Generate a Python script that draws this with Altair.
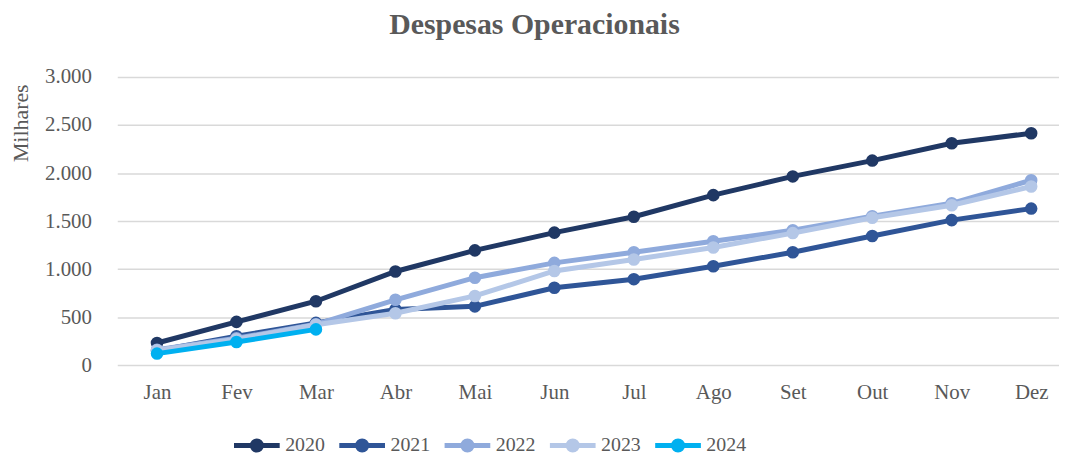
import json
import altair as alt
import pandas as pd

months = ["Jan", "Fev", "Mar", "Abr", "Mai", "Jun", "Jul", "Ago", "Set", "Out", "Nov", "Dez"]
years = ["2020", "2021", "2022", "2023", "2024"]
colors = ["#203864", "#2F5597", "#8FAADC", "#B4C7E7", "#00B0F0"]

v2020 = [230, 450, 665, 975, 1195, 1380, 1545, 1770, 1965, 2130, 2310, 2415]
v2021 = [150, 300, 440, 580, 612, 805, 895, 1030, 1175, 1345, 1510, 1630]
v2022 = [160, 280, 425, 680, 910, 1065, 1175, 1290, 1405, 1550, 1685, 1925]
v2023 = [155, 270, 420, 540, 720, 980, 1100, 1225, 1375, 1535, 1665, 1860]
v2024 = [120, 240, 372]

series = dict(zip(years, [v2020, v2021, v2022, v2023, v2024]))
rows = []
for y, vals in series.items():
    for i, v in enumerate(vals):
        rows.append({"idx": i, "mes": months[i], "ano": y, "valor": v})
df = pd.DataFrame(rows)

FONT = "Liberation Serif"
TXT = "#595959"
W, H = 948, 290

month_expr = json.dumps(months) + "[datum.value]"

x = alt.X("idx:Q", title=None,
          scale=alt.Scale(domain=[-0.5, 11.35], nice=False, zero=False),
          axis=alt.Axis(values=list(range(len(months))), labelExpr=month_expr,
                        domain=False, ticks=False, grid=False, labelAngle=0,
                        labelFont=FONT, labelFontSize=21, labelColor=TXT,
                        labelPadding=17, labelFlush=False, labelOverlap=False))
yenc = alt.Y("valor:Q", title="Milhares",
             scale=alt.Scale(domain=[0, 3000], nice=False),
             axis=alt.Axis(values=[0, 500, 1000, 1500, 2000, 2500, 3000],
                           domain=False, ticks=False, grid=True,
                           gridColor="#D9D9D9", gridWidth=1.5,
                           labelFont=FONT, labelFontSize=21, labelColor=TXT,
                           labelPadding=26,
                           labelExpr="replace(format(datum.value, ','), ',', '.')",
                           titleFont=FONT, titleFontSize=22, titleColor=TXT,
                           titleFontWeight="normal", titleAngle=270,
                           titleX=-97, titleY=46, titleAlign="center",
                           titleBaseline="middle"))

sym = "M-1,0L1,0M-0.2,0A0.2,0.2,0,1,1,0.2,0A0.2,0.2,0,1,1,-0.2,0Z"
color = alt.Color("ano:N", scale=alt.Scale(domain=years, range=colors),
                  legend=alt.Legend(title=None, orient="none", direction="horizontal",
                                    legendX=115, legendY=345,
                                    symbolType=sym, symbolSize=2116,
                                    symbolStrokeWidth=5,
                                    labelFont=FONT, labelFontSize=20,
                                    labelColor=TXT, labelOffset=3,
                                    columnPadding=4))

base = alt.Chart(df)
layers = []
for yv in years:
    f = base.transform_filter(alt.datum.ano == yv)
    layers.append(f.mark_line(strokeWidth=5).encode(x=x, y=yenc, color=color))
    layers.append(f.mark_circle(size=160, opacity=1).encode(x=x, y=yenc, color=color))

chart = alt.layer(*layers).properties(
    width=W, height=H,
    autosize=alt.AutoSizeParams(type="none"),
    padding={"left": 110, "top": 68, "right": 0, "bottom": 89},
    title=alt.TitleParams("Despesas Operacionais", font=FONT, fontSize=30,
                          fontWeight="bold", color=TXT, anchor="middle",
                          frame="bounds", baseline="alphabetic", offset=31, dy=29),
).configure_view(stroke=None)

chart.save("out.html", embed_options={"renderer": "svg", "actions": False})
